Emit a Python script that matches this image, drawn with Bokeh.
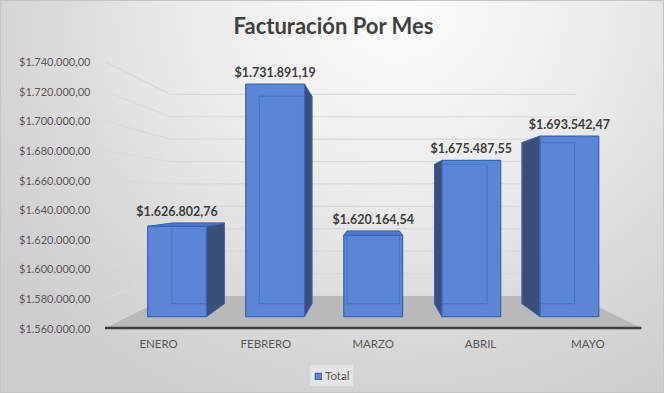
from bokeh.plotting import figure
from bokeh.models import Range1d, FixedTicker, Legend, LegendItem
from bokeh.core.properties import value
from bokeh.embed import file_html
from bokeh.resources import INLINE

# ---------------- data ----------------
months = ["ENERO", "FEBRERO", "MARZO", "ABRIL", "MAYO"]
totals = [1626802.76, 1731891.19, 1620164.54, 1675487.55, 1693542.47]
y_ticks = [1560000, 1580000, 1600000, 1620000, 1640000,
           1660000, 1680000, 1700000, 1720000, 1740000]
series_name = "Total"
chart_title = "Facturación Por Mes"


def money(v):
    s = f"{v:,.2f}"
    return "$" + s.replace(",", "#").replace(".", ",").replace("#", ".")


value_labels = [money(v) for v in totals]
tick_labels = [money(t) for t in y_ticks]

# ---------------- layout (figure pixels) ----------------
W, H = 664, 393
FL, FR, FT, FB = 100, 664, 42, 393         # frame edges
AXIS_PX = 330                              # where the category axis sits
X_PX = 107.3                               # px per category (axis plane)
X_C_PX = 372.7                             # px of middle category
Y_PX = 29.6 / 20000                        # px per unit (axis plane)
BASE = y_ticks[0]
Y_BASE_PX = 327.5
VP_PX = 195.8                              # vanishing point height
xc = (len(months) - 1) / 2.0
x_start = xc + (FL - X_C_PX) / X_PX
x_end = xc + (FR - X_C_PX) / X_PX
y_start = BASE - (FB - Y_BASE_PX) / Y_PX
y_end = BASE + (Y_BASE_PX - FT) / Y_PX
y_axis_loc = BASE - (AXIS_PX - Y_BASE_PX) / Y_PX
v0 = BASE + (Y_BASE_PX - VP_PX) / Y_PX
K_FRONT, K_BACK, K_WALL = 0.914, 0.816, 0.757   # depth factors
HW = 0.3
X_LO, X_HI = -0.5, len(months) - 0.5


def proj(x, v, k):
    return xc + (x - xc) * k, v0 + (v - v0) * k


def depth_ranges(k):
    return (Range1d(xc + (x_start - xc) / k, xc + (x_end - xc) / k),
            Range1d(v0 + (y_start - v0) / k, v0 + (y_end - v0) / k))


FONT = "Lato"
BLUE = "#5a86d5"
BLUE_EDGE = "#3a64b5"
SIDE = "#3b4e78"
TOPC = "#4f79c6"

p = figure(width=W, height=H, output_backend="svg", toolbar_location=None,
           x_range=Range1d(x_start, x_end), y_range=Range1d(y_start, y_end),
           min_border_left=FL, min_border_right=W - FR,
           min_border_top=FT, min_border_bottom=H - FB)
p.background_fill_alpha = 0
p.border_fill_alpha = 0
p.outline_line_alpha = 0
p.grid.visible = False
p.styles = {
    "background": "radial-gradient(ellipse 75% 115% at 60% 2%, #fcfcfc 0%, #ececec 40%, #d9d9d9 72%, #cdcdcd 100%)",
    "box-shadow": "inset 0 0 0 1px #c4c4c4",
}

fx, fy = depth_ranges(K_FRONT)
bx, by = depth_ranges(K_BACK)
wx, wy = depth_ranges(K_WALL)
p.extra_x_ranges = {"front": fx, "back": bx, "wall": wx}
p.extra_y_ranges = {"front": fy, "back": by, "wall": wy}

# title
p.title.text = chart_title
p.title.text_font = FONT
p.title.text_font_size = "22px"
p.title.text_font_style = "bold"
p.title.text_color = "#404040"
p.title.align = "left"
p.title.offset = 133
p.title.standoff = 8

# y axis
ya = p.yaxis[0]
ya.ticker = FixedTicker(ticks=y_ticks)
ya.major_label_overrides = dict(zip(y_ticks, tick_labels))
ya.axis_line_alpha = 0
ya.major_tick_line_alpha = 0
ya.minor_tick_line_alpha = 0
ya.major_tick_out = 0
ya.major_tick_in = 0
ya.major_label_standoff = 10
ya.major_label_text_font = FONT
ya.major_label_text_font_size = "11px"
ya.major_label_text_color = "#595959"

# x axis (kept in the "below" panel, drawn at the floor's front edge)
xa = p.xaxis[0]
xa.fixed_location = y_axis_loc
xa.ticker = FixedTicker(ticks=list(range(len(months))))
xa.major_label_overrides = {i: m for i, m in enumerate(months)}
xa.axis_line_alpha = 0
xa.major_tick_line_alpha = 0
xa.minor_tick_line_alpha = 0
xa.major_tick_out = 0
xa.major_tick_in = 0
xa.major_label_standoff = 6
xa.major_label_text_font = FONT
xa.major_label_text_font_size = "11.5px"
xa.major_label_text_color = "#595959"

# back wall gridlines
p.segment(x0=X_LO, x1=X_HI, y0=y_ticks, y1=y_ticks, x_range_name="wall",
          y_range_name="wall", line_color="#d9d9d9", line_width=1.2)
# side gridlines (from axis plane to back wall)
d_end = [proj(X_LO, t, K_WALL) for t in y_ticks]
p.segment(x0=X_LO, y0=y_ticks, x1=[d[0] for d in d_end], y1=[d[1] for d in d_end],
          line_color="#d9d9d9", line_width=1.2)

# floor
floor_pts = [proj(X_LO, BASE, 1.0), proj(X_HI, BASE, 1.0),
             proj(X_HI, BASE, K_WALL), proj(X_LO, BASE, K_WALL)]
p.patch(x=[q[0] for q in floor_pts], y=[q[1] for q in floor_pts],
        fill_color="#b9b9b9", line_color=None)
p.segment(x0=X_LO, x1=X_HI, y0=BASE, y1=BASE, line_color="#3f3f3f", line_width=2.5)

idx = list(range(len(months)))
lefts = [i - HW for i in idx]
rights = [i + HW for i in idx]

front_fill = p.quad(left=lefts, right=rights, bottom=BASE, top=totals,
                    x_range_name="front", y_range_name="front",
                    fill_color=BLUE, line_color=None)
p.quad(left=lefts, right=rights, bottom=BASE, top=totals,
       x_range_name="back", y_range_name="back",
       fill_alpha=0, line_color="#4673c8", line_width=1)

side_xs, side_ys = [], []
for i, v in zip(idx, totals):
    if i == xc:
        continue
    sx = i + HW if i < xc else i - HW
    pts = [proj(sx, v, K_FRONT), proj(sx, v, K_BACK),
           proj(sx, BASE, K_BACK), proj(sx, BASE, K_FRONT)]
    side_xs.append([q[0] for q in pts])
    side_ys.append([q[1] for q in pts])
p.patches(xs=side_xs, ys=side_ys, fill_color=SIDE, line_color=BLUE_EDGE, line_width=1)

top_xs, top_ys = [], []
for i, v in zip(idx, totals):
    if v >= v0:
        continue
    pts = [proj(i - HW, v, K_FRONT), proj(i + HW, v, K_FRONT),
           proj(i + HW, v, K_BACK), proj(i - HW, v, K_BACK)]
    top_xs.append([q[0] for q in pts])
    top_ys.append([q[1] for q in pts])
p.patches(xs=top_xs, ys=top_ys, fill_color=TOPC, line_color=BLUE_EDGE, line_width=1)

front_line = p.quad(left=lefts, right=rights, bottom=BASE, top=totals,
                    x_range_name="front", y_range_name="front",
                    fill_alpha=0, line_color=BLUE_EDGE, line_width=1.2)

lab_x, lab_y = [], []
for i, v in zip(idx, totals):
    xf, yf = proj(i, v, K_FRONT)
    _, yb = proj(i, v, K_BACK)
    lab_x.append(xf)
    lab_y.append(max(yf, yb))
p.text(x=lab_x, y=lab_y, text=value_labels, text_align="center",
       text_baseline="middle", y_offset=-12, text_font=value(FONT),
       text_font_size="12.5px", text_font_style="bold", text_color="#404040")

legend = Legend(items=[LegendItem(label=series_name, renderers=[front_fill, front_line])],
                orientation="horizontal", location=(210, 7),
                glyph_width=8, glyph_height=8, label_standoff=3,
                label_text_font=FONT, label_text_font_size="11.5px",
                label_text_color="#595959", padding=4, margin=0,
                background_fill_color="#e6e6e6", border_line_alpha=0)
p.add_layout(legend)

open("out.html", "w").write(file_html(p, INLINE))
